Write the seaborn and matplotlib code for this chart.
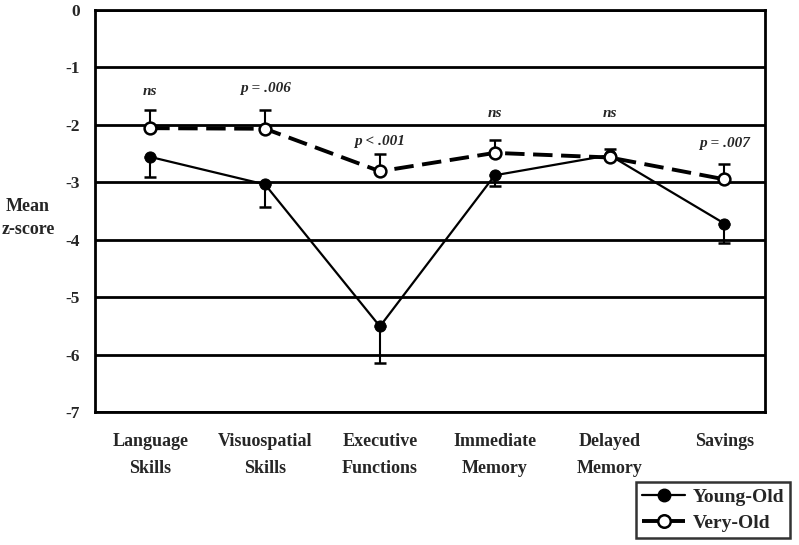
import matplotlib
matplotlib.use("Agg")
import matplotlib.pyplot as plt
import numpy as np
import pandas as pd
import seaborn as sns
from matplotlib.lines import Line2D

# data
domains = ["Language\nSkills", "Visuospatial\nSkills", "Executive\nFunctions",
           "Immediate\nMemory", "Delayed\nMemory", "Savings"]
young_old = [-2.56, -3.04, -5.51, -2.88, -2.53, -3.72]
young_old_err = [0.35, 0.40, 0.63, 0.18, 0.07, 0.34]   # drawn downward
very_old = [-2.06, -2.07, -2.81, -2.49, -2.57, -2.95]
very_old_err = [0.32, 0.32, 0.30, 0.23, 0.15, 0.26]    # drawn upward
p_labels = ["ns", "p = .006", "p < .001", "ns", "ns", "p = .007"]
p_label_y = [-1.43, -1.37, -2.30, -1.80, -1.80, -2.33]
y_ticks = [0, -1, -2, -3, -4, -5, -6, -7]

sns.set_theme(style="white")
plt.rcParams["font.family"] = ["Liberation Serif", "DejaVu Serif"]
plt.rcParams["font.weight"] = "bold"

pos = np.arange(len(domains))
df = pd.DataFrame({
    "pos": np.concatenate([pos, pos]),
    "z": young_old + very_old,
    "group": ["Young-Old"] * len(pos) + ["Very-Old"] * len(pos),
})

fig = plt.figure(figsize=(7.99, 5.45), dpi=100)
ax = fig.add_axes([0.119, 0.244, 0.838, 0.738])

dash = (0, (5, 2.2))

# error bars first so markers sit on top
ax.errorbar(pos, young_old, yerr=[young_old_err, [0] * len(pos)], fmt="none",
            ecolor="black", elinewidth=1.5, capsize=4.5, capthick=1.8, zorder=3)
ax.errorbar(pos, very_old, yerr=[[0] * len(pos), very_old_err], fmt="none",
            ecolor="black", elinewidth=1.5, capsize=4.5, capthick=1.8, zorder=3)

yo = df[df.group == "Young-Old"]
vo = df[df.group == "Very-Old"]
sns.lineplot(data=yo, x="pos", y="z", ax=ax, color="black", linewidth=1.6,
             marker="o", markersize=8, markerfacecolor="black",
             markeredgecolor="black", zorder=4, legend=False)
sns.lineplot(data=vo, x="pos", y="z", ax=ax, color="black", linewidth=2.8,
             linestyle=dash, marker="o", markersize=8.5,
             markerfacecolor="white", markeredgecolor="black",
             markeredgewidth=1.8, zorder=5, legend=False)

for x, y, s in zip(pos, p_label_y, p_labels):
    ax.text(x, y, s, ha="center", va="center", fontsize=11,
            fontweight="bold", fontstyle="italic")

ax.set_ylim(-7, 0)
ax.set_xlim(-0.48, 5.35)
ax.set_yticks(y_ticks)
ax.set_yticklabels([str(t) for t in y_ticks])
ax.set_xticks(pos)
ax.set_xticklabels(domains, fontsize=13, fontweight="bold", linespacing=1.75)
ax.tick_params(axis="y", direction="out", length=7, width=2, labelsize=12.5, pad=4)
ax.tick_params(axis="x", length=0, pad=15)
ax.yaxis.grid(True, color="black", linewidth=2)
ax.set_axisbelow(True)
for sp in ax.spines.values():
    sp.set_color("black")
    sp.set_linewidth(2)
ax.set_xlabel("")
ax.set_ylabel("Mean\nz-score", rotation=0, fontsize=13, fontweight="bold",
              va="center", ha="center", linespacing=1.5)
ax.yaxis.set_label_coords(-0.1, 0.483)

handles = [
    Line2D([], [], color="black", linewidth=1.6, marker="o", markersize=9,
           markerfacecolor="black"),
    Line2D([], [], color="black", linewidth=2.8, linestyle=dash, marker="o",
           markersize=9, markerfacecolor="white", markeredgewidth=1.8),
]
leg = fig.legend(handles, ["Young-Old", "Very-Old"], loc="lower right",
                 bbox_to_anchor=(0.989, 0.013), frameon=True, fancybox=False,
                 edgecolor="black", fontsize=14, handlelength=2.2,
                 borderpad=0.3, labelspacing=0.45, handletextpad=0.4,
                 borderaxespad=0.0)
leg.get_frame().set_linewidth(1.8)
for t in leg.get_texts():
    t.set_fontweight("bold")

fig.savefig("out.png", dpi=100)
